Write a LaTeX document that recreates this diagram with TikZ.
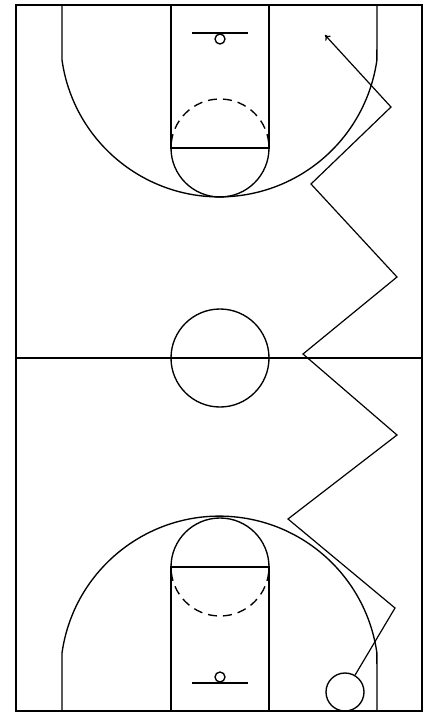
\documentclass[tikz,border=0pt]{standalone}
\usetikzlibrary{arrows.meta}
\begin{document}
\begin{tikzpicture}[x=1pt,y=-1pt,line width=1.35pt,
  courtline/.style={draw=black},
  dashline/.style={draw=black,dash pattern=on 9pt off 6pt,dash phase=10pt},
  playerbox/.style={circle,draw=black,minimum size=38pt,inner sep=0pt},
  movepath/.style={draw=black,line width=1.2pt,-{To[length=5pt,width=7pt]}}]
\useasboundingbox (0,0) rectangle (425,713);
\fill[white] (0,0) rectangle (425,713);
% outer boundary and midline
\draw[courtline] (16,5) rectangle (422,711);
\draw[courtline] (16,358) -- (422,358);
\draw[courtline] (220,358) circle (49pt);
% top half
\draw[courtline] (62,5) -- (62,60) arc[start angle=188, end angle=352, radius=159pt] -- (377,5);
\draw[courtline] (171,5) -- (171,148) -- (269,148) -- (269,5);
\draw[courtline] (171,148) arc[start angle=180, end angle=360, radius=49pt];
\draw[dashline] (269,148) arc[start angle=0, end angle=180, radius=49pt];
\draw[courtline] (192,33) -- (248,33);
\draw[courtline] (220,39) circle (5pt);
% bottom half
\draw[courtline] (62,711) -- (62,653) arc[start angle=172, end angle=8, radius=159pt] -- (377,711);
\draw[courtline] (171,711) -- (171,567) -- (269,567) -- (269,711);
\draw[courtline] (171,567) arc[start angle=180, end angle=0, radius=49pt];
\draw[dashline] (269,567) arc[start angle=360, end angle=180, radius=49pt];
\draw[courtline] (192,683) -- (248,683);
\draw[courtline] (220,677) circle (5pt);
% player and movement
\node[playerbox] (player) at (345,692) {};
\coordinate (z1) at (395,608);
\coordinate (z2) at (288,519);
\coordinate (z3) at (397,435);
\coordinate (z4) at (303,354);
\coordinate (z5) at (397,277);
\coordinate (z6) at (311,184);
\coordinate (z7) at (391,107);
\coordinate (tip) at (325,35);
\draw[movepath] (player) -- (z1) -- (z2) -- (z3) -- (z4) -- (z5) -- (z6) -- (z7) -- (tip);
\end{tikzpicture}
\end{document}
